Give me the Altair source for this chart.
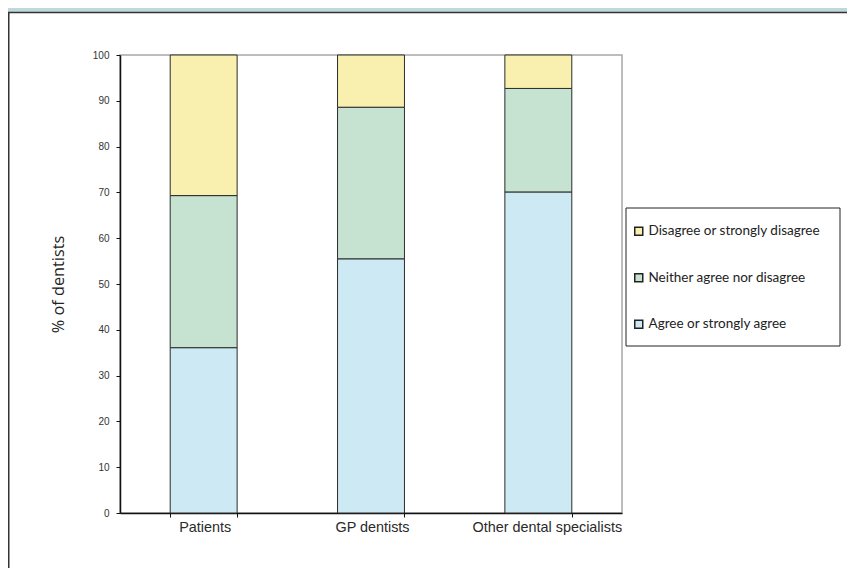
import altair as alt
import pandas as pd

categories = ["Patients", "GP dentists", "Other dental specialists"]
responses = ["Disagree or strongly disagree", "Neither agree nor disagree", "Agree or strongly agree"]
agree = [36.1, 55.5, 70.1]
neither = [33.2, 33.1, 22.6]
disagree = [30.7, 11.4, 7.3]
colors = ["#f9f0af", "#c6e3d2", "#cde9f3"]
y_ticks = list(range(0, 101, 10))

rows = []
for i, c in enumerate(categories):
    for resp, vals, rank in [(responses[2], agree, 0), (responses[1], neither, 1), (responses[0], disagree, 2)]:
        rows.append({"group": c, "response": resp, "value": vals[i], "rank": rank})
df = pd.DataFrame(rows)

W, H = 502, 458
PL, PT, PR, PB = 112, 47, 225, 55

bars = alt.Chart(df).mark_bar(stroke="#2b2b2b", strokeWidth=1).encode(
    x=alt.X("group:N", sort=categories,
            scale=alt.Scale(paddingInner=0.6, paddingOuter=0.3),
            axis=alt.Axis(title=None, labelAngle=0, tickBand="extent", tickSize=4,
                          domainColor="#111", domainWidth=1.5, tickColor="#111", tickWidth=1,
                          labelFont="Liberation Sans", labelFontSize=14.4, labelColor="#2a2a2a",
                          labelPadding=3, labelLimit=0,
                          labelOffset={"condition": {"test": "datum.value === 'Other dental specialists'",
                                                     "value": 8.5},
                                       "value": 1})),
    y=alt.Y("value:Q", stack="zero", scale=alt.Scale(domain=[0, 100], nice=False),
            axis=alt.Axis(values=y_ticks, grid=False, title="% of dentists", tickSize=4,
                          domainColor="#111", domainWidth=1.5, tickColor="#111", tickWidth=1,
                          labelFont="Liberation Sans", labelFontSize=10, labelColor="#333",
                          labelPadding=7, titleFont="Open Sans", titleFontSize=16.3,
                          titleFontWeight="normal", titleColor="#222",
                          titleX=-62, titleY=H / 2, titleAngle=270,
                          titleAlign="center", titleBaseline="middle")),
    color=alt.Color("response:N",
                    scale=alt.Scale(domain=responses, range=colors),
                    legend=alt.Legend(title=None, orient="none", legendX=512, legendY=169.5,
                                      symbolType="square", symbolSize=64,
                                      symbolStrokeColor="#222", symbolStrokeWidth=1.5,
                                      labelFont="Lato", labelFontSize=13.5, labelColor="#222",
                                      labelLimit=0,
                                      rowPadding=31.5, labelOffset=3, padding=0)),
    order=alt.Order("rank:Q"),
)

deco = pd.DataFrame({"k": [0]})
strip = alt.Chart(deco).mark_rect(color="#c0d8dc").encode(
    x=alt.value(-PL), x2=alt.value(W + PR), y=alt.value(-PT), y2=alt.value(-PT + 4))
top_line = alt.Chart(deco).mark_rule(color="#333", strokeWidth=1.5).encode(
    x=alt.value(-PL), x2=alt.value(W + PR), y=alt.value(-PT + 4.5))
left_line = alt.Chart(deco).mark_rule(color="#333", strokeWidth=1.5).encode(
    x=alt.value(-PL + 0.75), y=alt.value(-PT + 4), y2=alt.value(H + PB))
legend_box = alt.Chart(deco).mark_rect(filled=False, stroke="#222", strokeWidth=1).encode(
    x=alt.value(506), x2=alt.value(720), y=alt.value(153), y2=alt.value(291))

chart = alt.layer(bars, strip, top_line, left_line, legend_box).properties(
    width=W, height=H,
    autosize=alt.AutoSizeParams(type="none"),
    padding={"left": PL, "top": PT, "right": PR, "bottom": PB},
    background="white",
).configure_view(stroke="#a8a8a8", strokeWidth=1.5)

chart.save("out.html", embed_options={"renderer": "svg", "actions": False})
